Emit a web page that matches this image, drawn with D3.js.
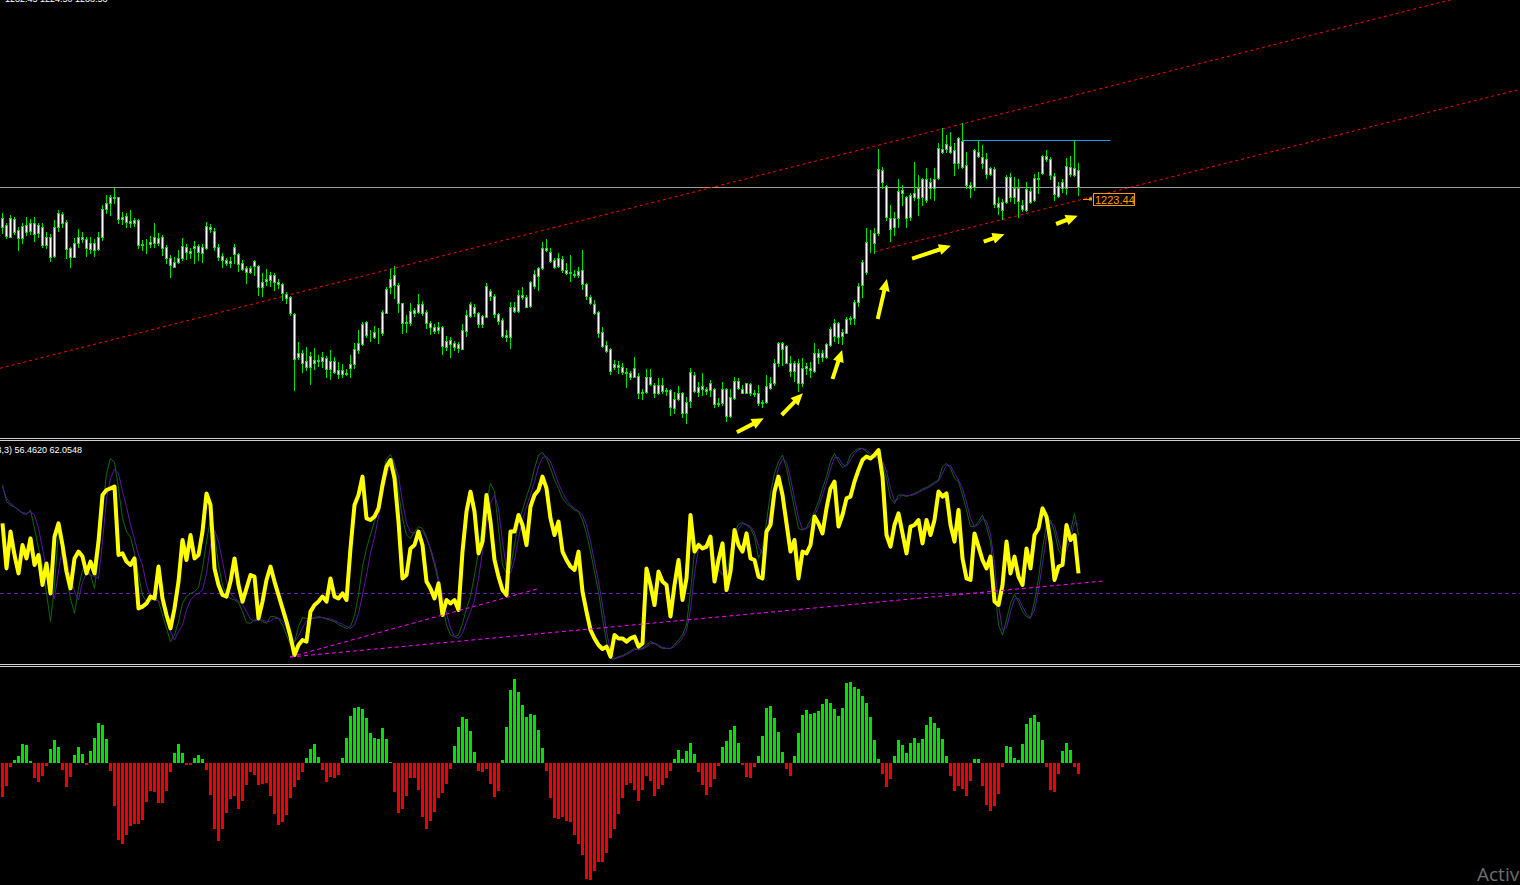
<!DOCTYPE html>
<html>
<head>
<meta charset="utf-8">
<style>
  html, body { margin: 0; padding: 0; background: #000; overflow: hidden; }
  svg { display: block; }
</style>
</head>
<body>
<script src="https://cdnjs.cloudflare.com/ajax/libs/d3/7.8.5/d3.min.js"></script>
<script>

// ---- price bars: [open, high, low, close], one per bar ----
var candles = [
[1215.0,1219.2,1213.2,1217.5],[1215.5,1216.0,1211.5,1212.3],[1212.0,1218.5,1211.8,1217.5],[1217.2,1217.8,1212.8,1213.5],
[1214.0,1215.0,1208.0,1211.5],[1211.5,1216.2,1210.0,1215.2],[1215.5,1218.0,1212.5,1213.5],[1213.8,1217.2,1212.8,1216.0],
[1216.0,1217.8,1210.8,1212.7],[1213.0,1216.2,1211.8,1215.5],[1215.0,1216.0,1209.0,1209.5],[1209.5,1213.5,1208.5,1212.0],
[1211.8,1212.8,1204.8,1206.0],[1206.2,1217.0,1206.0,1215.0],[1215.0,1220.0,1213.8,1219.0],[1218.7,1219.5,1214.8,1216.0],
[1216.3,1217.0,1205.5,1208.2],[1208.5,1209.0,1203.0,1206.0],[1206.0,1211.5,1205.8,1210.0],[1210.0,1214.2,1208.8,1211.8],
[1211.8,1213.3,1210.5,1211.2],[1211.2,1211.8,1206.2,1208.5],[1208.3,1211.8,1207.2,1210.0],[1210.0,1211.2,1206.2,1208.0],
[1208.2,1213.5,1208.0,1212.0],[1211.8,1221.5,1211.0,1220.2],[1220.2,1224.5,1219.0,1222.2],[1222.2,1224.6,1218.5,1223.8],
[1223.8,1226.6,1222.2,1223.7],[1223.8,1224.0,1216.2,1217.2],[1217.2,1219.4,1215.8,1217.8],[1218.2,1219.0,1215.0,1216.5],
[1216.6,1220.0,1214.8,1216.2],[1216.0,1217.5,1215.3,1217.0],[1217.0,1217.2,1208.7,1209.5],[1209.5,1211.0,1208.0,1209.8],
[1209.8,1211.2,1207.0,1209.7],[1209.8,1212.2,1208.8,1210.5],[1210.2,1216.2,1208.8,1211.8],[1211.5,1213.0,1209.5,1210.2],
[1211.8,1212.5,1206.5,1208.5],[1209.0,1209.5,1204.0,1205.5],[1205.5,1206.5,1200.0,1203.5],[1203.0,1205.8,1202.8,1204.5],
[1204.5,1208.0,1204.0,1205.5],[1205.5,1211.5,1205.0,1209.2],[1209.0,1209.8,1205.2,1207.5],[1207.2,1208.5,1205.5,1207.8],
[1208.5,1210.7,1204.0,1209.2],[1209.2,1209.8,1205.0,1207.5],[1207.2,1209.8,1204.5,1209.0],[1208.5,1216.5,1208.2,1215.2],
[1215.0,1215.8,1213.5,1214.3],[1213.8,1214.5,1208.0,1208.8],[1209.0,1209.8,1205.0,1206.0],[1206.2,1207.2,1202.8,1205.0],
[1205.0,1205.5,1203.5,1204.0],[1204.2,1206.0,1202.8,1204.8],[1206.7,1209.8,1204.2,1209.0],[1206.8,1207.2,1201.8,1203.8],
[1204.0,1205.0,1202.0,1202.4],[1202.7,1203.2,1198.0,1201.5],[1201.5,1203.2,1201.0,1202.6],[1203.2,1205.0,1200.5,1204.6],
[1203.2,1203.5,1194.5,1197.0],[1197.0,1201.0,1194.2,1198.5],[1198.8,1202.3,1197.5,1199.2],[1199.0,1201.5,1197.2,1200.5],
[1200.5,1201.0,1196.0,1198.3],[1198.5,1199.2,1196.5,1197.7],[1197.8,1198.2,1193.0,1195.2],[1194.8,1195.5,1192.2,1193.5],
[1194.0,1194.2,1188.5,1189.2],[1188.8,1189.2,1166.0,1175.2],[1176.0,1180.5,1175.3,1177.2],[1177.0,1178.0,1171.5,1174.2],
[1174.8,1178.8,1172.0,1173.0],[1173.0,1177.5,1167.7,1176.2],[1175.0,1178.5,1172.2,1174.2],[1174.6,1176.5,1173.2,1175.0],
[1174.8,1177.5,1173.0,1175.8],[1175.5,1176.2,1170.0,1172.2],[1172.2,1178.0,1169.2,1174.7],[1174.7,1176.0,1171.2,1171.4],
[1172.0,1174.5,1169.5,1170.7],[1170.8,1173.8,1170.0,1172.0],[1171.2,1172.2,1170.5,1170.7],[1172.7,1176.5,1170.0,1173.7],
[1173.7,1180.2,1172.7,1178.2],[1178.0,1184.0,1177.2,1180.0],[1179.8,1186.5,1179.5,1185.8],[1186.5,1186.8,1181.8,1182.4],
[1182.4,1184.0,1180.8,1182.5],[1182.0,1185.2,1181.5,1183.3],[1183.3,1184.5,1180.2,1183.4],[1183.2,1190.0,1182.5,1189.5],
[1189.2,1197.0,1189.0,1196.2],[1196.8,1202.2,1195.0,1199.2],[1197.5,1203.2,1193.5,1200.5],[1197.5,1198.2,1189.5,1192.0],
[1192.0,1192.2,1183.2,1186.0],[1186.0,1188.5,1183.5,1186.5],[1186.2,1192.2,1185.5,1189.7],[1189.0,1190.5,1188.2,1190.0],
[1189.5,1194.8,1189.0,1191.8],[1191.8,1192.8,1188.5,1189.2],[1189.5,1190.0,1184.5,1186.0],[1186.0,1186.8,1182.8,1184.8],
[1185.0,1185.8,1183.2,1183.8],[1184.0,1186.5,1183.0,1184.8],[1184.8,1185.2,1176.8,1179.3],[1179.0,1182.2,1178.0,1180.7],
[1181.0,1181.8,1176.0,1179.8],[1180.0,1180.8,1178.0,1179.0],[1179.8,1180.5,1177.5,1178.5],[1178.3,1185.8,1178.2,1184.0],
[1183.8,1190.0,1182.2,1188.5],[1188.2,1192.5,1187.8,1191.8],[1190.8,1191.8,1188.2,1189.2],[1189.0,1189.5,1184.8,1185.8],
[1185.8,1188.5,1184.8,1188.2],[1188.0,1198.2,1187.8,1197.2],[1195.8,1196.2,1193.0,1194.2],[1194.2,1194.8,1187.8,1188.8],
[1188.8,1189.0,1185.8,1186.8],[1187.0,1187.5,1181.8,1182.2],[1181.8,1184.0,1180.8,1182.5],[1181.8,1192.5,1178.5,1190.8],
[1190.8,1192.5,1189.5,1189.8],[1189.8,1196.0,1189.5,1194.5],[1194.5,1196.8,1193.2,1193.8],[1193.8,1194.5,1190.8,1191.0],
[1191.2,1198.8,1191.0,1198.5],[1197.2,1202.0,1196.5,1200.7],[1200.3,1203.0,1196.0,1202.7],[1202.5,1210.4,1202.2,1208.5],
[1208.5,1211.2,1207.8,1208.0],[1207.5,1208.5,1204.5,1204.8],[1205.0,1205.5,1202.5,1203.0],[1203.3,1207.0,1202.8,1205.5],
[1205.2,1206.2,1201.5,1202.0],[1202.0,1204.0,1200.8,1201.2],[1201.2,1206.5,1198.8,1201.5],[1200.7,1202.0,1199.8,1200.5],
[1200.5,1202.8,1200.0,1201.8],[1202.0,1208.0,1196.2,1197.8],[1197.8,1198.2,1193.2,1194.2],[1194.0,1194.5,1191.8,1192.2],
[1191.8,1193.0,1188.8,1189.2],[1189.5,1189.8,1182.0,1183.2],[1183.5,1185.0,1178.8,1179.2],[1179.5,1180.8,1177.5,1177.8],
[1178.3,1178.5,1170.8,1171.8],[1172.8,1175.0,1172.2,1173.8],[1173.5,1174.8,1171.0,1172.8],[1173.0,1174.2,1170.8,1171.5],
[1171.5,1172.5,1166.8,1171.2],[1171.0,1171.8,1169.2,1169.8],[1170.0,1176.0,1169.8,1172.5],[1170.2,1171.0,1163.5,1165.2],
[1165.2,1166.2,1163.2,1165.5],[1165.5,1172.2,1165.0,1170.0],[1170.0,1172.2,1167.5,1167.8],[1167.5,1168.0,1164.0,1165.0],
[1165.0,1169.5,1164.8,1167.5],[1167.5,1169.5,1165.2,1165.8],[1165.8,1166.5,1164.5,1166.0],[1166.0,1166.2,1158.5,1160.8],
[1160.5,1165.5,1159.0,1163.2],[1163.2,1167.2,1163.0,1165.0],[1165.0,1165.5,1158.0,1159.0],[1159.2,1164.0,1156.2,1162.5],
[1162.8,1172.5,1160.8,1171.5],[1170.5,1171.5,1165.5,1165.8],[1165.5,1168.5,1164.2,1167.0],[1167.2,1171.0,1164.5,1166.2],
[1166.2,1167.0,1164.8,1165.8],[1166.0,1169.0,1164.2,1168.0],[1166.2,1166.5,1161.0,1161.8],[1161.8,1163.5,1161.2,1162.2],
[1162.0,1168.5,1161.5,1166.2],[1166.2,1166.5,1156.8,1158.2],[1158.2,1166.2,1158.0,1163.8],[1163.5,1169.8,1163.2,1168.7],
[1168.8,1169.5,1166.2,1166.5],[1166.2,1167.5,1165.0,1165.2],[1165.2,1168.2,1165.0,1168.0],[1167.8,1168.0,1164.5,1165.0],
[1165.0,1166.0,1164.2,1164.8],[1165.0,1167.5,1161.5,1162.0],[1162.0,1163.0,1160.8,1162.5],[1162.5,1170.5,1162.2,1167.2],
[1166.5,1170.0,1166.2,1168.0],[1168.0,1175.2,1167.5,1174.2],[1174.0,1180.5,1173.2,1180.0],[1180.0,1180.5,1173.5,1178.2],
[1179.2,1179.5,1174.0,1174.2],[1174.2,1176.2,1170.2,1171.8],[1171.8,1174.8,1168.8,1174.0],[1174.0,1175.2,1165.8,1168.2],
[1168.0,1175.5,1167.2,1172.5],[1172.5,1174.2,1170.8,1173.2],[1172.7,1174.5,1170.0,1172.0],[1171.8,1180.2,1171.5,1177.0],
[1177.0,1178.2,1174.2,1175.8],[1175.8,1178.0,1174.8,1177.0],[1175.8,1180.2,1175.5,1179.8],[1179.5,1184.8,1179.2,1184.2],
[1182.2,1187.2,1180.8,1186.0],[1186.0,1186.5,1180.2,1182.0],[1182.2,1184.2,1179.8,1183.4],[1183.2,1188.0,1183.0,1187.2],
[1187.2,1188.2,1185.8,1187.5],[1187.5,1193.0,1185.8,1192.5],[1192.5,1198.2,1191.2,1197.3],[1197.5,1205.0,1194.0,1204.5],
[1201.5,1214.5,1200.8,1210.5],[1210.2,1214.0,1207.5,1210.0],[1210.2,1214.5,1207.2,1213.2],[1213.2,1238.2,1212.5,1232.2],
[1232.0,1232.8,1226.5,1228.5],[1227.2,1227.5,1217.0,1217.8],[1217.7,1221.5,1210.8,1214.2],[1214.8,1219.5,1212.5,1217.5],
[1217.5,1229.2,1215.0,1225.8],[1225.2,1227.5,1221.5,1226.0],[1224.0,1224.2,1215.0,1217.5],[1217.8,1225.0,1217.0,1224.5],
[1223.8,1234.5,1223.0,1225.2],[1223.5,1230.5,1218.5,1226.5],[1223.8,1229.5,1221.5,1229.2],[1229.2,1232.5,1222.5,1223.0],
[1226.5,1229.5,1223.5,1228.5],[1226.5,1232.5,1223.0,1229.2],[1229.5,1240.0,1229.2,1238.5],[1238.2,1244.5,1237.2,1237.5],
[1238.2,1242.5,1237.5,1239.8],[1239.2,1243.5,1237.0,1237.5],[1238.0,1240.0,1230.5,1234.2],[1234.2,1242.0,1232.5,1241.5],
[1240.8,1246.0,1232.5,1232.8],[1233.5,1237.5,1226.5,1227.5],[1227.5,1228.5,1223.8,1226.5],[1227.0,1238.2,1226.0,1238.0],
[1237.5,1241.0,1236.0,1236.2],[1236.0,1239.5,1232.5,1234.2],[1235.2,1237.0,1229.5,1230.8],[1230.8,1233.0,1230.5,1232.5],
[1232.2,1233.0,1221.0,1221.8],[1222.0,1223.8,1218.8,1220.8],[1220.0,1223.2,1217.2,1222.5],[1222.5,1230.5,1222.2,1230.0],
[1230.0,1231.2,1222.8,1223.8],[1223.8,1229.8,1222.2,1226.5],[1226.5,1229.2,1217.8,1222.8],[1221.5,1223.0,1219.8,1220.2],
[1220.0,1228.5,1219.8,1226.2],[1225.8,1226.5,1222.0,1222.5],[1223.0,1230.8,1222.8,1229.5],[1229.5,1231.5,1225.0,1229.2],
[1231.2,1236.5,1230.8,1236.2],[1236.2,1238.0,1234.8,1235.2],[1235.2,1236.0,1229.2,1230.5],[1230.2,1231.0,1223.0,1224.8],
[1224.2,1228.5,1223.8,1227.2],[1226.5,1229.2,1225.5,1228.5],[1226.5,1235.5,1224.8,1233.2],[1233.0,1236.2,1230.2,1230.8],
[1230.5,1241.0,1230.2,1232.5],[1232.0,1234.0,1224.5,1227.0]
];

// ---- oscillator series, one value per bar ----
var yellowLine = [
69.8,47.3,65.7,54.0,44.8,59.0,52.3,62.3,49.0,54.0,39.0,49.8,34.8,63.2,69.8,59.0,45.7,37.3,52.3,55.7,
53.2,44.8,50.7,44.8,60.7,84.0,86.5,87.3,88.2,54.0,54.8,50.7,49.0,52.3,27.3,28.2,29.8,33.2,32.3,48.2,
32.3,24.0,17.3,27.3,40.7,61.5,51.5,64.0,52.3,54.0,65.7,84.8,79.0,47.3,39.0,34.0,33.2,40.7,52.3,39.0,
30.7,37.3,44.0,43.2,22.3,30.7,41.5,48.2,40.7,34.0,27.3,20.7,13.2,4.0,9.0,11.5,10.7,25.7,29.0,30.7,
33.2,30.7,42.3,33.2,32.3,34.8,31.5,57.3,79.0,84.0,93.2,72.3,71.5,73.2,77.3,89.0,98.2,101.5,92.3,70.7,
42.3,44.0,57.3,59.0,65.7,59.0,40.7,37.3,32.3,39.8,24.0,31.5,29.8,31.5,26.5,55.7,75.7,85.7,75.7,54.8,
60.7,84.0,70.7,51.5,43.2,36.5,34.0,65.7,65.7,74.0,69.0,59.0,78.2,84.0,86.5,93.2,87.3,72.3,64.0,70.7,
55.7,51.5,48.2,46.5,55.7,35.7,25.7,16.5,12.3,9.0,7.0,8.2,3.2,14.0,12.3,12.3,10.7,12.3,13.2,8.2,
9.8,47.3,39.0,29.0,45.7,40.7,39.0,23.2,39.0,51.5,31.5,42.3,74.0,55.7,59.0,57.3,58.2,63.2,40.7,51.5,
59.8,36.5,45.7,66.5,59.0,55.7,64.8,52.3,51.5,43.2,42.3,65.7,69.0,85.7,93.2,84.0,69.8,55.7,61.5,42.3,
55.7,54.8,59.0,73.2,69.8,64.8,77.3,87.3,90.7,68.2,74.0,82.3,83.2,90.7,96.5,101.5,103.2,102.3,104.0,106.5,
93.2,64.0,58.2,69.0,74.8,64.8,54.8,68.2,69.0,71.5,59.8,71.5,64.0,71.5,85.7,83.2,84.8,69.0,60.7,76.5,
52.3,42.3,41.5,64.8,58.2,51.5,47.3,53.2,30.7,29.0,39.0,60.7,44.8,53.2,43.2,39.0,57.3,47.3,64.0,67.3,
77.3,73.2,60.7,41.5,48.2,49.0,69.0,61.5,64.0,44.8
];

var greenLine = [
89.0,80.7,79.0,78.0,76.5,74.8,74.3,76.5,67.3,57.3,49.0,34.8,20.7,39.0,65.7,57.3,42.3,32.3,24.8,37.3,
46.5,47.3,44.0,37.3,54.0,75.7,94.8,102.3,100.3,87.3,72.3,65.7,62.8,54.8,44.0,34.0,30.7,30.7,33.7,30.7,
24.0,17.3,10.7,14.0,20.7,29.8,33.2,34.8,35.7,37.7,47.3,60.7,72.3,64.0,49.0,39.0,33.7,32.3,31.5,30.3,
25.7,20.2,19.8,21.5,22.3,20.7,19.8,23.2,23.2,22.3,19.0,14.0,9.0,10.3,18.2,22.7,22.3,22.3,22.7,23.2,
22.7,22.0,21.3,20.7,19.3,18.2,17.3,18.2,23.7,34.0,48.2,57.3,64.3,70.7,76.5,93.2,102.0,104.3,99.8,85.7,
72.3,64.0,62.3,65.7,68.2,67.3,63.2,56.5,49.0,40.7,29.0,19.0,14.0,13.2,14.0,19.8,27.3,33.2,44.0,55.7,
69.0,80.7,89.8,85.7,67.3,49.0,44.8,47.3,59.0,70.7,76.5,83.2,89.0,97.3,104.0,105.3,102.3,97.3,91.5,87.3,
82.3,79.8,78.2,76.5,75.7,71.5,64.8,55.7,45.7,35.7,22.3,10.7,2.3,2.0,3.2,3.7,4.8,6.0,7.3,6.5,
7.3,9.0,10.7,9.8,8.2,7.3,7.3,7.3,9.0,11.5,14.0,19.0,35.7,55.7,60.7,58.2,57.3,58.2,47.3,46.0,
44.0,42.3,55.7,65.3,69.3,70.3,69.0,67.3,63.2,52.3,57.3,70.7,84.8,94.8,100.7,104.0,97.3,87.3,77.3,67.3,
66.5,67.7,71.5,75.7,80.7,87.3,93.2,100.7,104.8,100.7,97.7,99.0,104.0,106.0,107.3,107.3,105.7,104.0,103.0,102.3,
99.8,92.3,82.3,79.8,84.0,84.0,83.2,84.0,84.8,85.7,87.0,87.8,89.0,90.3,91.5,98.2,99.8,97.3,92.3,90.7,
84.0,76.5,68.2,68.2,70.7,74.0,68.2,60.7,39.0,19.0,14.0,21.5,29.8,34.3,30.7,25.7,23.2,22.3,30.7,42.3,
57.3,69.0,71.5,65.7,56.5,53.2,59.0,65.7,74.8,64.0
];

var purpleLine = [
88.2,82.3,79.8,78.2,76.5,75.2,74.8,75.7,74.0,67.3,57.3,46.5,35.7,32.3,45.7,58.2,52.3,42.3,35.7,31.5,
40.7,44.8,44.0,43.2,42.3,60.7,82.3,92.3,97.0,94.8,85.7,78.2,69.0,62.0,54.0,49.0,39.0,33.2,31.5,31.0,
29.0,22.3,15.7,11.5,15.7,19.0,26.5,31.5,33.7,34.8,36.5,44.8,59.0,66.5,60.7,50.7,40.7,34.8,32.3,31.0,
29.3,25.7,22.0,21.0,21.5,21.5,20.7,21.0,22.3,22.3,21.0,17.7,13.2,10.7,13.2,17.7,21.0,22.0,22.3,22.7,
22.7,22.3,22.0,21.3,20.3,19.3,18.2,17.3,19.0,24.8,34.0,44.0,55.0,63.0,73.0,84.0,94.0,99.3,99.8,93.2,
80.7,69.8,65.3,64.8,66.3,66.0,62.3,57.3,50.7,42.3,34.0,24.8,17.3,13.2,12.3,14.8,20.7,25.7,31.5,42.3,
55.7,69.0,79.8,84.0,77.3,60.7,47.3,44.8,51.5,62.3,71.5,78.2,84.0,90.7,98.2,102.7,103.2,100.7,95.3,89.8,
85.3,81.5,79.0,77.3,76.0,74.0,69.0,60.7,50.7,40.7,29.0,15.7,5.7,2.3,2.7,3.3,4.3,5.3,6.7,7.0,
7.0,8.0,9.7,10.0,9.0,7.8,7.3,7.3,8.2,10.0,12.7,16.3,26.5,44.8,57.3,59.3,58.0,57.7,52.3,47.0,
44.8,43.2,49.0,60.3,67.0,69.7,69.3,68.2,65.3,58.2,54.8,63.7,77.3,89.3,97.7,102.0,100.7,92.3,82.3,72.3,
67.0,67.0,69.3,73.7,78.2,84.0,90.3,97.0,102.7,102.7,99.3,98.3,101.5,104.8,106.7,107.3,106.5,104.8,103.5,102.7,
101.0,96.0,87.3,81.0,82.0,84.0,83.7,83.7,84.3,85.3,86.3,87.3,88.3,89.7,91.0,94.8,99.0,98.7,94.8,91.5,
87.3,80.3,72.3,68.2,69.3,72.3,71.0,64.3,49.8,29.0,16.5,17.7,25.7,32.0,32.3,28.2,24.3,22.7,26.5,36.5,
49.8,63.2,70.3,68.7,61.0,54.8,56.0,62.3,70.3,69.3
];

// ---- histogram, one value per bar ----
var histValues = [
-34,-23,-4,3,7,19,18,2,-15,-19,-13,-3,14,23,16,-7,-24,-14,8,16,
9,-2,12,25,40,38,24,-8,-43,-77,-81,-72,-63,-61,-61,-57,-39,-28,-29,-40,
-40,-28,-9,10,19,10,-2,-2,5,8,4,-7,-32,-66,-78,-66,-50,-36,-33,-46,
-38,-22,-9,-12,-22,-21,-20,-33,-51,-62,-59,-52,-35,-24,-17,-9,5,14,19,6,
-7,-19,-14,-15,-12,5,25,47,55,56,54,45,30,25,24,35,24,1,-29,-50,
-46,-33,-15,-15,-27,-54,-66,-58,-49,-35,-30,-21,-6,17,36,46,44,32,11,-8,
-9,-6,-21,-34,-28,3,36,73,84,71,58,46,49,48,33,15,-8,-35,-55,-56,
-54,-58,-59,-72,-81,-92,-116,-117,-108,-99,-99,-90,-75,-66,-51,-35,-22,-20,-27,-38,
-27,-13,-18,-33,-26,-22,-15,-8,4,13,4,12,20,9,-9,-22,-32,-24,-16,-3,
16,22,33,37,20,-2,-14,-15,-4,7,27,55,57,45,31,11,-6,-13,7,30,
48,53,49,50,52,59,64,60,54,47,55,80,81,76,74,67,60,46,23,4,
-11,-24,-16,7,23,18,10,20,25,20,24,38,46,40,35,24,7,-13,-28,-23,
-26,-33,-18,4,4,-23,-42,-48,-43,-31,-4,17,16,5,3,19,39,45,48,41,
23,-4,-27,-29,-11,12,20,13,-4,-11
];

// ---- drawn objects, in [bar, value] ----
var upperChannel = [[0, 1172.7], [269, 1254.7]];
var lowerChannel = [[218, 1207.5], [269, 1222.9]];
var resistance = [[240, 1240.9], [277, 1240.9]];
var priceTag = 1223.44;
var arrows = [
  [[183.6, 1153.3], [190.3, 1157.5]],
  [[194.8, 1158.5], [200.1, 1165.0]],
  [[207.5, 1169.3], [209.9, 1178.0]],
  [[218.8, 1187.3], [221.1, 1199.3]],
  [[227.4, 1205.4], [237.1, 1209.3]],
  [[245.3, 1210.5], [250.5, 1212.7]],
  [[263.4, 1215.8], [268.8, 1218.3]]
];
var oscTrendA = [[71.9, 3.0], [133.7, 37.0]];
var oscTrendB = [[71.9, 3.0], [275.2, 41.0]];
var oscLevel = 35;

var W = 1520, H = 885;

var svg = d3.select("body").append("svg")
    .attr("width", W)
    .attr("height", H)
    .style("background", "#000");

// 4 px per bar
var x = d3.scaleLinear().domain([0, 1]).range([2.5, 6.5]);
var yPrice = d3.scaleLinear().domain([1151.6, 1283]).range([438, 0]);
var yOsc = d3.scaleLinear().domain([0, 111]).range([663, 441]);
var yHist = d3.scaleLinear().domain([-122, 96]).range([885, 667]);

var defs = svg.append("defs");
defs.append("clipPath").attr("id", "clipPrice")
  .append("rect").attr("x", 0).attr("y", 0).attr("width", W).attr("height", 437);
defs.append("clipPath").attr("id", "clipOsc")
  .append("rect").attr("x", 0).attr("y", 442).attr("width", W).attr("height", 222);

// ===== price pane =====
var pricePane = svg.append("g").attr("clip-path", "url(#clipPrice)");

pricePane.append("text")
    .attr("x", 5).attr("y", 2)
    .attr("fill", "#fff")
    .style("font", "9px 'Liberation Sans', Arial, sans-serif")
    .text("1232.45 1224.50 1233.53");

// last close line
var lastClose = candles[candles.length - 1][3];
pricePane.append("line")
    .attr("x1", 0).attr("x2", W)
    .attr("y1", Math.round(yPrice(lastClose)) + 0.5)
    .attr("y2", Math.round(yPrice(lastClose)) + 0.5)
    .attr("stroke", "#9a9a9a").attr("stroke-width", 1);

// channel lines
function extend(p0, p1, xa, xb, ys) {
  var x0 = x(p0[0]), y0 = ys(p0[1]), x1 = x(p1[0]), y1 = ys(p1[1]);
  var k = (y1 - y0) / (x1 - x0);
  return [[xa, y0 + k * (xa - x0)], [xb, y0 + k * (xb - x0)]];
}

var up = extend(upperChannel[0], upperChannel[1], 0, W, yPrice);
var lo = extend(lowerChannel[0], lowerChannel[1], x(lowerChannel[0][0]), W, yPrice);
[up, lo].forEach(function(seg) {
  pricePane.append("line")
      .attr("x1", seg[0][0]).attr("y1", seg[0][1])
      .attr("x2", seg[1][0]).attr("y2", seg[1][1])
      .attr("stroke", "#ff0000")
      .attr("stroke-width", 1)
      .attr("stroke-dasharray", "3,3");
});

// resistance line
pricePane.append("line")
    .attr("x1", x(resistance[0][0])).attr("x2", x(resistance[1][0]))
    .attr("y1", Math.round(yPrice(resistance[0][1])) + 0.5)
    .attr("y2", Math.round(yPrice(resistance[1][1])) + 0.5)
    .attr("stroke", "#1e9be6").attr("stroke-width", 1.2);

// candles
var candleColor = "#00e600";
var cg = pricePane.append("g").attr("shape-rendering", "crispEdges");

cg.selectAll(".wick")
  .data(candles)
  .enter().append("rect")
    .attr("class", "wick")
    .attr("x", function(d, i) { return x(i) - 0.5; })
    .attr("y", function(d) { return Math.round(yPrice(d[1])); })
    .attr("width", 1)
    .attr("height", function(d) { return Math.round(yPrice(d[2])) - Math.round(yPrice(d[1])) + 1; })
    .attr("fill", candleColor);

cg.selectAll(".body")
  .data(candles)
  .enter().append("rect")
    .attr("class", "body")
    .attr("x", function(d, i) { return x(i) - 1; })
    .attr("y", function(d) { return Math.round(yPrice(Math.max(d[0], d[3]))) + 0.5; })
    .attr("width", 2)
    .attr("height", function(d) {
      return Math.max(Math.round(yPrice(Math.min(d[0], d[3]))) - Math.round(yPrice(Math.max(d[0], d[3]))), 0);
    })
    .attr("fill", "#ffffff")
    .attr("stroke", candleColor)
    .attr("stroke-width", 1);

// arrows
function arrowPath(a, b) {
  var x0 = x(a[0]), y0 = yPrice(a[1]), x1 = x(b[0]), y1 = yPrice(b[1]);
  var dx = x1 - x0, dy = y1 - y0, len = Math.sqrt(dx * dx + dy * dy);
  var ux = dx / len, uy = dy / len, nx = -uy, ny = ux;
  var hl = 12, hw = 5.5, sw = 2;
  var bx = x1 - ux * hl, by = y1 - uy * hl;
  var pts = [
    [x0 + nx * sw, y0 + ny * sw],
    [bx + nx * sw, by + ny * sw],
    [bx + nx * hw, by + ny * hw],
    [x1, y1],
    [bx - nx * hw, by - ny * hw],
    [bx - nx * sw, by - ny * sw],
    [x0 - nx * sw, y0 - ny * sw]
  ];
  return "M" + pts.map(function(p) { return p[0].toFixed(1) + "," + p[1].toFixed(1); }).join("L") + "Z";
}

pricePane.selectAll(".arrow")
  .data(arrows)
  .enter().append("path")
    .attr("class", "arrow")
    .attr("d", function(d) { return arrowPath(d[0], d[1]); })
    .attr("fill", "#ffff00");

// price tag
var tagY = Math.round(yPrice(priceTag)) + 0.5;
pricePane.append("line")
    .attr("x1", 1083).attr("x2", 1091)
    .attr("y1", tagY).attr("y2", tagY)
    .attr("stroke", "#ff9900");
pricePane.append("rect")
    .attr("x", 1089).attr("y", tagY - 2).attr("width", 3).attr("height", 3)
    .attr("fill", "#ff9900");
pricePane.append("rect")
    .attr("x", 1093.5).attr("y", tagY - 6)
    .attr("width", 41).attr("height", 12)
    .attr("fill", "#000").attr("stroke", "#ff9900");
pricePane.append("text")
    .attr("x", 1095).attr("y", tagY + 4.5)
    .attr("fill", "#ff9900")
    .style("font", "11px 'Liberation Sans', Arial, sans-serif")
    .text(d3.format(".2f")(priceTag));

// ===== separators =====
[438.5, 440.5, 664.5, 666.5].forEach(function(yy) {
  svg.append("line")
      .attr("x1", 0).attr("x2", W).attr("y1", yy).attr("y2", yy)
      .attr("stroke", "#d0d0d0").attr("stroke-width", 1);
});

// ===== oscillator pane =====
var oscPane = svg.append("g").attr("clip-path", "url(#clipOsc)");

oscPane.append("line")
    .attr("x1", 0).attr("x2", W)
    .attr("y1", Math.round(yOsc(oscLevel)) + 0.5)
    .attr("y2", Math.round(yOsc(oscLevel)) + 0.5)
    .attr("stroke", "#6a1fb0")
    .attr("stroke-dasharray", "4,3");

var oscLine = d3.line()
    .x(function(d, i) { return x(i); })
    .y(function(d) { return yOsc(d); });

oscPane.append("path")
    .attr("d", oscLine(greenLine))
    .attr("fill", "none").attr("stroke", "#0a6a0a").attr("stroke-width", 1);
oscPane.append("path")
    .attr("d", oscLine(purpleLine))
    .attr("fill", "none").attr("stroke", "#5a14a8").attr("stroke-width", 1);
oscPane.append("path")
    .attr("d", oscLine(yellowLine))
    .attr("fill", "none").attr("stroke", "#ffff00")
    .attr("stroke-width", 4).attr("stroke-linejoin", "round");

[oscTrendA, oscTrendB].forEach(function(seg) {
  oscPane.append("line")
      .attr("x1", x(seg[0][0])).attr("y1", yOsc(seg[0][1]))
      .attr("x2", x(seg[1][0])).attr("y2", yOsc(seg[1][1]))
      .attr("stroke", "#ff00ff")
      .attr("stroke-width", 1)
      .attr("stroke-dasharray", "4,3");
});

oscPane.append("text")
    .attr("x", 82).attr("y", 453)
    .attr("text-anchor", "end")
    .attr("fill", "#fff")
    .style("font", "9px 'Liberation Sans', Arial, sans-serif")
    .text("Stoch(5,3,3) 56.4620 62.0548");

// ===== histogram pane =====
svg.append("g").attr("shape-rendering", "crispEdges")
  .selectAll(".hbar")
  .data(histValues)
  .enter().append("rect")
    .attr("class", "hbar")
    .attr("x", function(d, i) { return x(i) - 1.5; })
    .attr("width", 3)
    .attr("y", function(d) { return Math.round(yHist(Math.max(d, 0))); })
    .attr("height", function(d) { return Math.max(Math.abs(Math.round(yHist(d)) - Math.round(yHist(0))), 1); })
    .attr("fill", function(d) { return d >= 0 ? "#00e000" : "#ee0000"; });

// watermark
svg.append("text")
    .attr("x", 1477).attr("y", 881)
    .attr("fill", "#6e6e6e")
    .style("font", "19px 'Open Sans', 'Noto Sans', sans-serif")
    .text("Activate Windows");

</script>
</body>
</html>
